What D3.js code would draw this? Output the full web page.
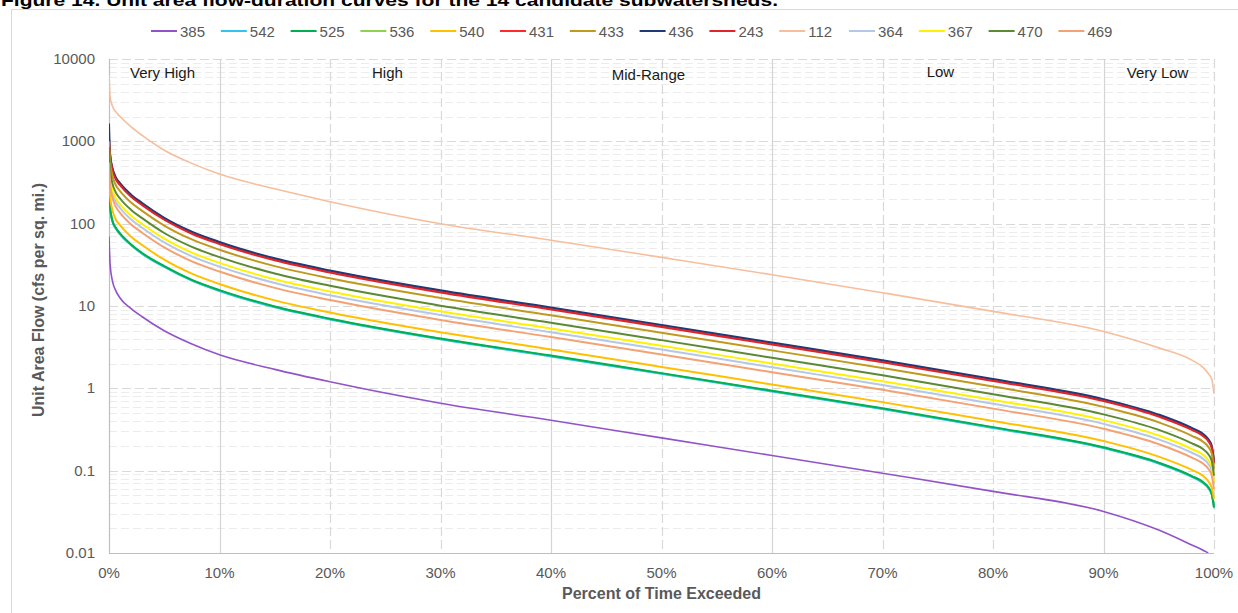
<!DOCTYPE html>
<html><head><meta charset="utf-8">
<script src="https://cdn.jsdelivr.net/npm/d3@7"></script>
<style>
html,body{margin:0;padding:0;background:#fff;}
svg{display:block;}
</style>
</head><body>
<svg id="chart" width="1238" height="613"></svg>
<script>
// ---------------- DATA ----------------
const percents = [0, 0.1, 0.3, 0.6, 1, 2, 3, 5, 7.5, 10, 15, 20, 30, 40, 50, 60, 70, 80, 90, 95, 98, 99, 99.5, 99.8, 100];

const s385 = [70, 32, 20.5, 15.5, 12.5, 9.3, 7.4, 5.0, 3.45, 2.55, 1.7, 1.2, 0.66, 0.41, 0.25, 0.153, 0.093, 0.056, 0.032, 0.019, 0.0125, 0.0108, 0.0098, 0.008, 0.005];
const s542 = [350, 156, 107, 88, 74, 54.7, 43, 29.8, 20.3, 15.2, 9.65, 6.86, 3.94, 2.44, 1.5, 0.915, 0.559, 0.33, 0.188, 0.122, 0.084, 0.071, 0.061, 0.051, 0.035];
const s525 = [380, 160, 110, 90, 76, 56, 44, 30.5, 20.8, 15.6, 9.88, 7.02, 4.03, 2.5, 1.53, 0.936, 0.572, 0.338, 0.192, 0.125, 0.086, 0.0728, 0.0625, 0.052, 0.036];
const s536 = [400, 158, 109, 89, 75, 55.4, 43.6, 30.2, 20.55, 15.45, 9.78, 6.95, 3.99, 2.47, 1.515, 0.927, 0.566, 0.335, 0.19, 0.124, 0.085, 0.072, 0.062, 0.0515, 0.038];
const s540 = [450, 216, 148, 114, 95.8, 69.4, 55, 36.5, 24.7, 18.5, 11.7, 8.34, 4.79, 2.97, 1.82, 1.11, 0.68, 0.402, 0.229, 0.148, 0.102, 0.0865, 0.074, 0.062, 0.045];
const s431 = [1100, 680, 465, 357, 300, 217, 172, 114, 77, 58, 36.7, 26, 15, 9.3, 5.7, 3.48, 2.12, 1.26, 0.715, 0.464, 0.319, 0.27, 0.232, 0.193, 0.126];
const s433 = [1000, 563, 386, 297, 249, 181, 143, 94.9, 64.3, 48.2, 30.5, 21.7, 12.5, 7.72, 4.74, 2.89, 1.77, 1.05, 0.595, 0.386, 0.265, 0.225, 0.193, 0.161, 0.105];
const s436 = [1650, 700, 480, 370, 310, 225, 178, 118, 80, 60, 38, 27, 15.5, 9.6, 5.9, 3.6, 2.2, 1.3, 0.74, 0.48, 0.33, 0.28, 0.24, 0.2, 0.13];
const s243 = [950, 660, 453, 349, 293, 212, 168, 111.6, 75.5, 56.6, 35.9, 25.5, 14.6, 9.06, 5.57, 3.4, 2.08, 1.23, 0.70, 0.453, 0.312, 0.264, 0.227, 0.189, 0.123];
const s112 = [6500, 3500, 2700, 2300, 2000, 1500, 1180, 780, 540, 400, 265, 185, 100, 63, 39, 24, 14.5, 8.6, 4.9, 3.1, 2.2, 1.8, 1.5, 1.3, 0.86];
const s364 = [600, 351, 240, 185, 155, 112.5, 89.2, 59.1, 40.1, 30.1, 19, 13.5, 7.77, 4.81, 2.96, 1.8, 1.1, 0.651, 0.37, 0.24, 0.165, 0.14, 0.12, 0.1, 0.068];
const s367 = [700, 389, 267, 206, 172, 125, 99, 65.7, 44.5, 33.4, 21.1, 15, 8.62, 5.34, 3.28, 2.0, 1.22, 0.723, 0.411, 0.267, 0.183, 0.156, 0.133, 0.111, 0.072];
const s470 = [850, 457, 313, 242, 202, 147, 116.7, 77, 52.2, 39.2, 24.8, 17.6, 10.1, 6.27, 3.85, 2.35, 1.44, 0.849, 0.483, 0.313, 0.215, 0.183, 0.157, 0.131, 0.087];
const s469 = [550, 305, 210, 162, 135, 97.8, 77.7, 51.5, 34.9, 26.2, 16.6, 11.8, 6.77, 4.19, 2.58, 1.57, 0.96, 0.567, 0.323, 0.21, 0.144, 0.122, 0.105, 0.087, 0.06];

const seriesNames = ["385", "542", "525", "536", "540", "431", "433", "436", "243", "112", "364", "367", "470", "469"];
const seriesValues = [s385, s542, s525, s536, s540, s431, s433, s436, s243, s112, s364, s367, s470, s469];
const seriesColors = ["#9153C7", "#33C3F0", "#00B050", "#92D050", "#FFC000", "#FF2B2B", "#C09A1E", "#1F3A75", "#E0242A", "#F7BE9C", "#B4C7E7", "#FFF200", "#5B8A32", "#F2A274"];
// drawing order (536 lies beneath 525)
const drawOrder = ["536", "385", "542", "525", "540", "431", "436", "243", "433", "112", "364", "367", "470", "469"];

const yTicks = [0.01, 0.1, 1, 10, 100, 1000, 10000];
const yTickLabels = ["0.01", "0.1", "1", "10", "100", "1000", "10000"];
const xTicks = [0, 10, 20, 30, 40, 50, 60, 70, 80, 90, 100];
const xTickLabels = ["0%", "10%", "20%", "30%", "40%", "50%", "60%", "70%", "80%", "90%", "100%"];
const zoneBounds = [10, 40, 60, 90];
const zoneLabels = ["Very High", "High", "Mid-Range", "Low", "Very Low"];
const zoneLabelPct = [1.9, 23.8, 45.5, 74.0, 92.1];
const zoneLabelVal = [5880, 5880, 5560, 6050, 5880];

const titleText = "Figure 14. Unit area flow-duration curves for the 14 candidate subwatersheds.";
const xTitle = "Percent of Time Exceeded";
const yTitle = "Unit Area Flow (cfs per sq. mi.)";

// ---------------- LAYOUT ----------------
const svg = d3.select("#chart");
const L = 109, R = 1214, T = 59, B = 553;
const x = d3.scaleLinear().domain([0, 100]).range([L, R]);
const y = d3.scaleLog().domain([0.01, 10000]).range([B, T]);
const font = "'Liberation Sans', Arial, sans-serif";
const gray = "#595959";

// title (partially cut at top, as in the source figure)
svg.append("text").attr("x", 1).attr("y", 6)
  .attr("font-family", font).attr("font-weight", "bold").attr("font-size", 17)
  .attr("textLength", 777).attr("lengthAdjust", "spacingAndGlyphs")
  .attr("fill", "#000").text(titleText);

// chart frame
svg.append("rect").attr("x", 11.5).attr("y", 9.5).attr("width", 1240).attr("height", 620)
  .attr("fill", "none").attr("stroke", "#d9d9d9").attr("stroke-width", 1);

// minor horizontal grid
const minor = [];
for (let e = -2; e < 4; e++) for (let m = 2; m <= 9; m++) minor.push(m * Math.pow(10, e));
svg.append("g").selectAll("line").data(minor).join("line")
  .attr("x1", L).attr("x2", R)
  .attr("y1", d => Math.round(y(d)) + 0.5).attr("y2", d => Math.round(y(d)) + 0.5)
  .attr("stroke", "#ececec").attr("stroke-width", 1).attr("stroke-dasharray", "8,4");

// major horizontal grid
svg.append("g").selectAll("line").data(yTicks.slice(1)).join("line")
  .attr("x1", L).attr("x2", R)
  .attr("y1", d => Math.round(y(d)) + 0.5).attr("y2", d => Math.round(y(d)) + 0.5)
  .attr("stroke", "#d9d9d9").attr("stroke-width", 1.2).attr("stroke-dasharray", "9,4");

// vertical grid
svg.append("g").selectAll("line").data(xTicks.slice(1)).join("line")
  .attr("x1", d => Math.round(x(d)) + 0.5).attr("x2", d => Math.round(x(d)) + 0.5)
  .attr("y1", T).attr("y2", B)
  .attr("stroke", d => zoneBounds.includes(d) ? "#d4d4d4" : "#d9d9d9")
  .attr("stroke-width", 1.2)
  .attr("stroke-dasharray", d => zoneBounds.includes(d) ? null : "9,4");

// axes lines
svg.append("line").attr("x1", L + 0.5).attr("x2", L + 0.5).attr("y1", T).attr("y2", B)
  .attr("stroke", "#bfbfbf").attr("stroke-width", 1.2);
svg.append("line").attr("x1", L).attr("x2", R).attr("y1", B + 0.5).attr("y2", B + 0.5)
  .attr("stroke", "#bfbfbf").attr("stroke-width", 1.2);

// y tick labels
svg.append("g").selectAll("text").data(yTicks).join("text")
  .attr("x", L - 14).attr("y", d => y(d) + 5)
  .attr("text-anchor", "end").attr("font-family", font).attr("font-size", 15)
  .attr("fill", gray).text((d, i) => yTickLabels[i]);

// x tick labels
svg.append("g").selectAll("text").data(xTicks).join("text")
  .attr("x", d => x(d)).attr("y", B + 25)
  .attr("text-anchor", "middle").attr("font-family", font).attr("font-size", 15)
  .attr("fill", gray).text((d, i) => xTickLabels[i]);

// axis titles
svg.append("text").attr("x", (L + R) / 2).attr("y", 599)
  .attr("text-anchor", "middle").attr("font-family", font).attr("font-weight", "bold")
  .attr("font-size", 16).attr("fill", gray).text(xTitle);
svg.append("text").attr("transform", `translate(44,${(T + B) / 2 - 6}) rotate(-90)`)
  .attr("text-anchor", "middle").attr("font-family", font).attr("font-weight", "bold")
  .attr("font-size", 16).attr("fill", gray).text(yTitle);

// zone labels
svg.append("g").selectAll("text").data(zoneLabels).join("text")
  .attr("x", (d, i) => x(zoneLabelPct[i])).attr("y", (d, i) => y(zoneLabelVal[i]))
  .attr("font-family", font).attr("font-size", 15).attr("fill", "#1a1a1a").text(d => d);

// clip
svg.append("clipPath").attr("id", "plotclip").append("rect")
  .attr("x", L).attr("y", T - 2).attr("width", R - L + 2).attr("height", B - T + 2);

const line = d3.line().x(d => x(d[0])).y(d => y(d[1])).curve(d3.curveMonotoneX);
const gLines = svg.append("g").attr("clip-path", "url(#plotclip)");
drawOrder.forEach(name => {
  const i = seriesNames.indexOf(name);
  const pts = percents.map((p, k) => [p, seriesValues[i][k]]);
  gLines.append("path").attr("d", line(pts)).attr("fill", "none")
    .attr("stroke", seriesColors[i])
    .attr("stroke-width", (name === "385" || name === "112") ? 1.6 : 2)
    .attr("stroke-linejoin", "round");
});

// legend
const legX0 = 151, legStep = 69.8, legY = 31;
const leg = svg.append("g").selectAll("g").data(seriesNames).join("g")
  .attr("transform", (d, i) => `translate(${legX0 + i * legStep},${legY})`);
leg.append("line").attr("x1", 0).attr("x2", 26).attr("y1", 0).attr("y2", 0)
  .attr("stroke", (d, i) => seriesColors[i]).attr("stroke-width", 2);
leg.append("text").attr("x", 29).attr("y", 5.5).attr("font-family", font).attr("font-size", 15)
  .attr("fill", gray).text(d => d);
</script>
</body></html>
